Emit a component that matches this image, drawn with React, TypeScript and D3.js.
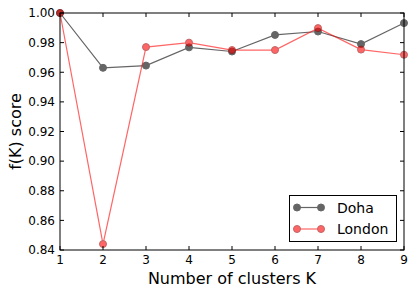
import * as d3 from "d3";
import React from "react";

const ks = [1, 2, 3, 4, 5, 6, 7, 8, 9];
const doha = [1.0, 0.963, 0.9645, 0.9768, 0.974, 0.9852, 0.9875, 0.979, 0.9932];
const london = [1.0, 0.844, 0.977, 0.98, 0.975, 0.975, 0.9898, 0.9753, 0.9718];
const yTicks = [0.84, 0.86, 0.88, 0.9, 0.92, 0.94, 0.96, 0.98, 1.0];

const W = 416;
const H = 295;
const margin = { top: 13, right: 12, bottom: 45, left: 60 };
const font = "DejaVu Sans, sans-serif";

const series = [
  { name: "Doha", values: doha, color: "black", edge: "black" },
  { name: "London", values: london, color: "red", edge: "#900" },
];

export default function App() {
  const x = d3.scaleLinear().domain([1, 9]).range([margin.left, W - margin.right]);
  const y = d3.scaleLinear().domain([0.84, 1.0]).range([H - margin.bottom, margin.top]);
  const line = d3
    .line<number>()
    .x((d, i) => x(ks[i]))
    .y((d) => y(d));
  const x0 = margin.left;
  const x1 = W - margin.right;
  const y0 = H - margin.bottom;
  const y1 = margin.top;

  return (
    <svg width={W} height={H} style={{ position: "absolute", left: 0, top: 0 }} fontFamily={font}>
      <rect width={W} height={H} fill="white" />
      <g clipPath="url(#clip)">
        {series.map((s) => (
          <g key={s.name} opacity={0.6}>
            <path d={line(s.values) || ""} fill="none" stroke={s.color} strokeWidth={1.2} />
            {s.values.map((v, i) => (
              <circle key={i} cx={x(ks[i])} cy={y(v)} r={3.5} fill={s.color} stroke={s.edge} strokeWidth={1} />
            ))}
          </g>
        ))}
      </g>
      <defs>
        <clipPath id="clip">
          <rect x={x0 - 5} y={y1 - 5} width={x1 - x0 + 10} height={y0 - y1 + 10} />
        </clipPath>
      </defs>
      {/* ticks */}
      {ks.map((k) => (
        <g key={k}>
          <line x1={x(k)} x2={x(k)} y1={y0} y2={y0 - 4} stroke="black" />
          <line x1={x(k)} x2={x(k)} y1={y1} y2={y1 + 4} stroke="black" />
          <text x={x(k)} y={264} fontSize={12} textAnchor="middle">
            {k}
          </text>
        </g>
      ))}
      {yTicks.map((t) => (
        <g key={t}>
          <line x1={x0} x2={x0 + 4} y1={y(t)} y2={y(t)} stroke="black" />
          <line x1={x1} x2={x1 - 4} y1={y(t)} y2={y(t)} stroke="black" />
          <text x={55} y={y(t)} dy="0.36em" fontSize={12} textAnchor="end">
            {d3.format(".2f")(t)}
          </text>
        </g>
      ))}
      <rect x={x0} y={y1} width={x1 - x0} height={y0 - y1} fill="none" stroke="black" strokeWidth={1} />
      <text x={(x0 + x1) / 2} y={284} fontSize={16} textAnchor="middle">
        Number of clusters K
      </text>
      <text transform={`translate(21,${(y0 + y1) / 2}) rotate(-90)`} fontSize={16} textAnchor="middle">
        f(K) score
      </text>
      {/* legend */}
      <g>
        <rect x={289.5} y={195.5} width={107} height={46} fill="white" stroke="black" strokeWidth={1} />
        {series.map((s, i) => {
          const ly = 207.5 + i * 21.5;
          return (
            <g key={s.name}>
              <g opacity={0.6}>
                <line x1={297} x2={321} y1={ly} y2={ly} stroke={s.color} strokeWidth={1.2} />
                <circle cx={297} cy={ly} r={3.5} fill={s.color} stroke={s.edge} />
                <circle cx={321} cy={ly} r={3.5} fill={s.color} stroke={s.edge} />
              </g>
              <text x={337} y={ly} dy="0.36em" fontSize={14}>
                {s.name}
              </text>
            </g>
          );
        })}
      </g>
    </svg>
  );
}
